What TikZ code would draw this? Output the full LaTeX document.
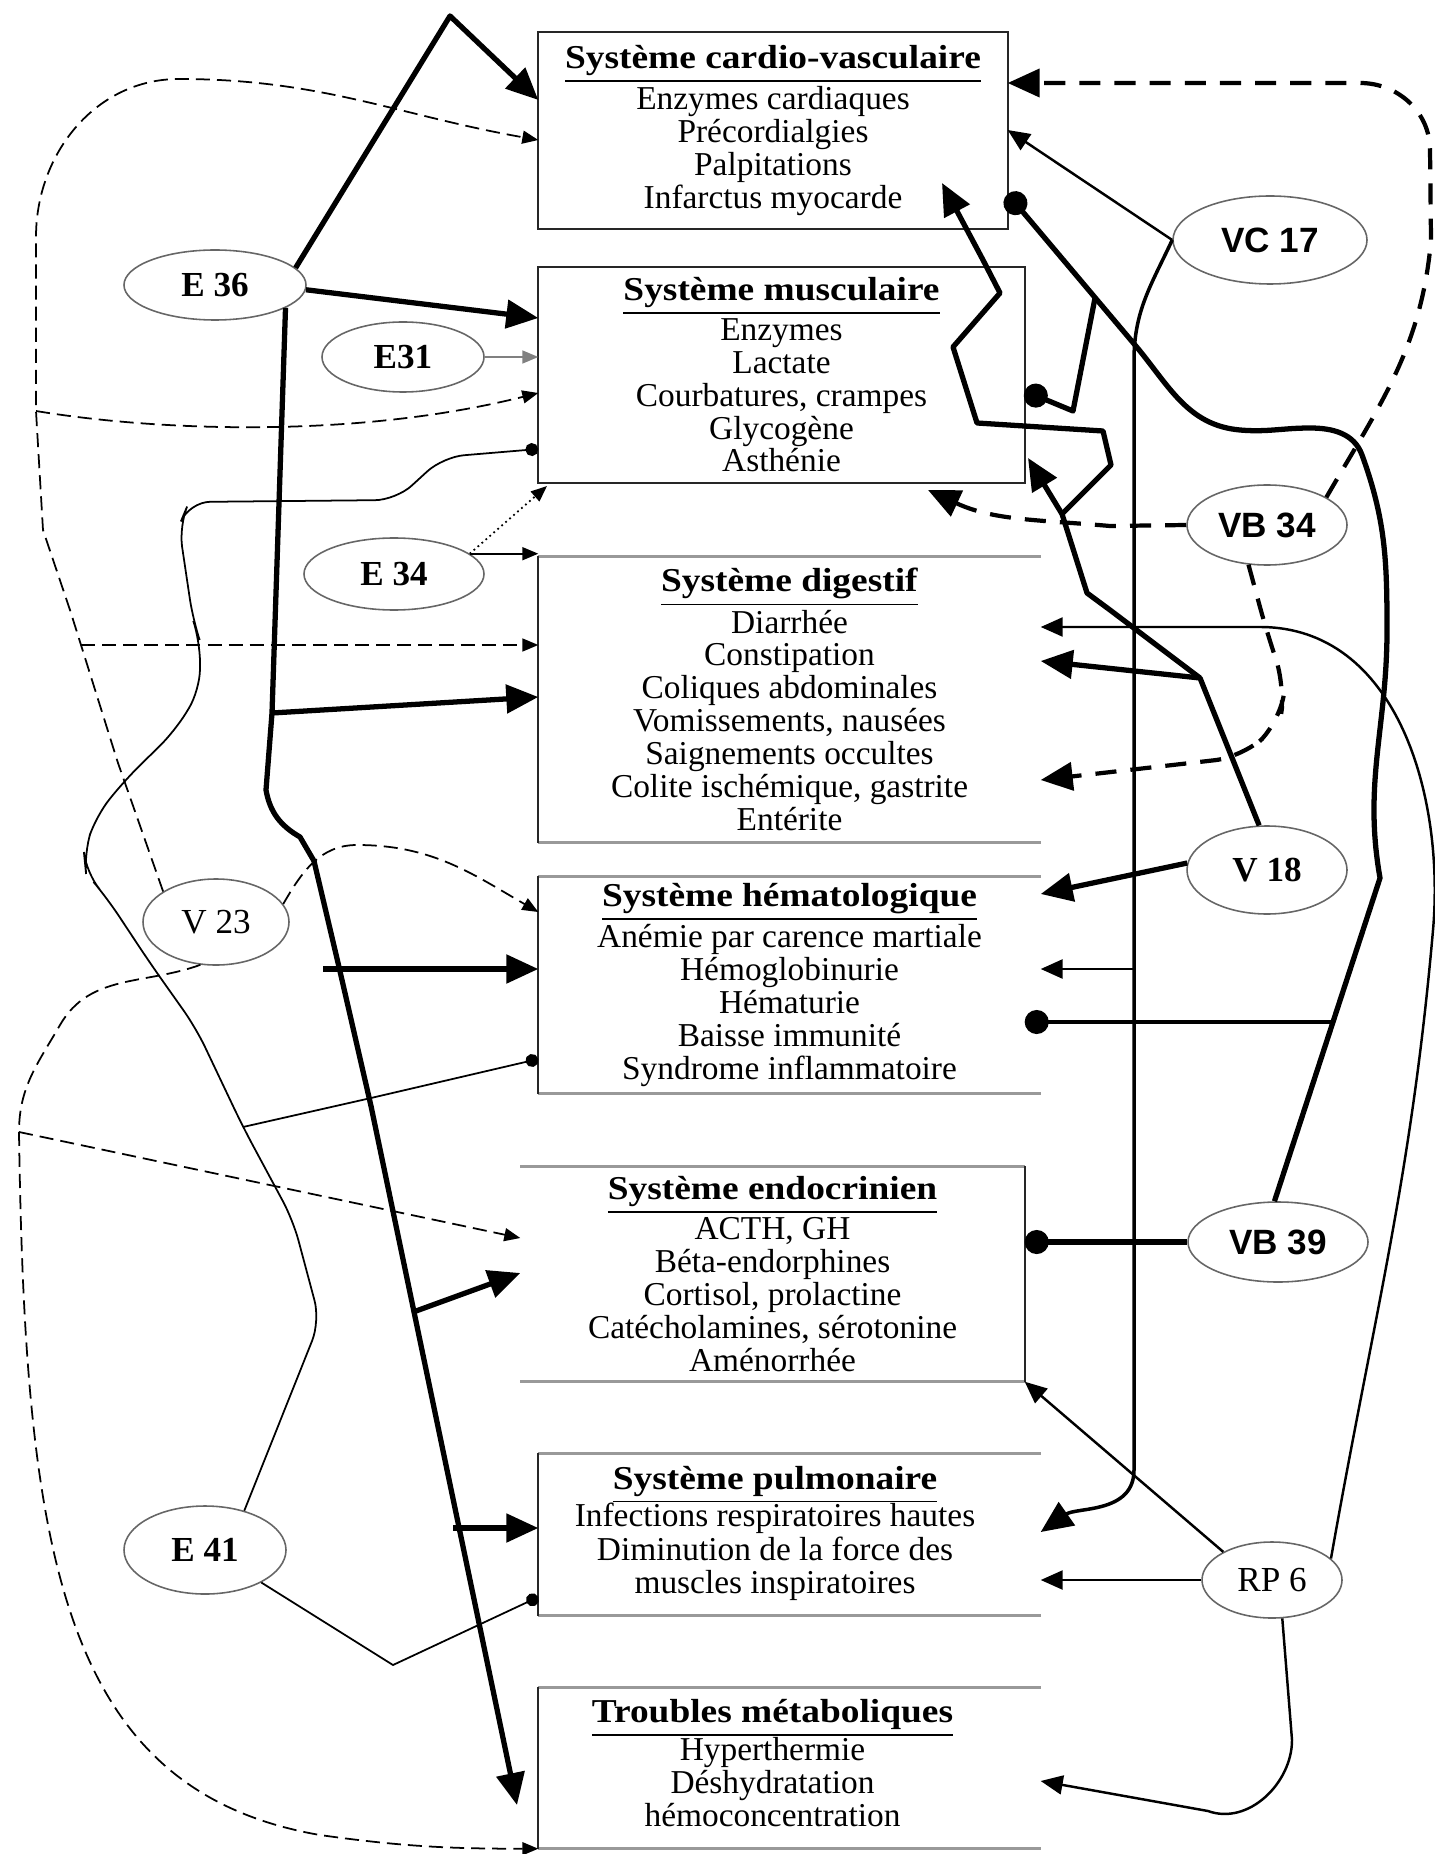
\documentclass[tikz,border=0pt]{standalone}
\usepackage{fontspec}
\setmainfont{Liberation Serif}
\setsansfont{Liberation Sans}
\usetikzlibrary{shapes.geometric,arrows.meta}

\newcommand{\systitle}[1]{\underline{\scalebox{1.12}[1]{\textbf{#1}}}}

\tikzset{
  sys/.style={inner sep=0pt, align=center, font=\fontsize{9.5}{9.35}\selectfont},
  acu/.style={shape=ellipse, draw=black!60, line width=0.45pt, inner sep=0pt, font=\bfseries\fontsize{10}{10}\selectfont},
  acusans/.style={acu, font=\sffamily\bfseries\fontsize{10}{10}\selectfont},
  boxside/.style={draw=black!85, line width=0.6pt},
  boxrule/.style={draw=black!40, line width=0.9pt},
  fatline/.style={line width=1.5pt, line join=round},
  midline/.style={line width=1.0pt, line join=round},
  thinline/.style={line width=0.5pt},
  dashthin/.style={line width=0.5pt, dash pattern=on 4pt off 2pt},
  dashfat/.style={line width=1.2pt, dash pattern=on 6pt off 4pt},
  bigtip/.style={-{Triangle[length=3.2mm,width=2.8mm]}},
  midtip/.style={-{Triangle[length=2.2mm,width=1.9mm]}},
  smalltip/.style={-{Triangle[length=1.6mm,width=1.3mm]}},
  bigdot/.style={-{Circle[length=2.4mm]}},
  smalldot/.style={-{Circle[length=1.3mm]}}
}

\begin{document}
\begin{tikzpicture}
\useasboundingbox (0,0) rectangle (14.34,-18.54);

\node [name=cv, sys, minimum width=4.68cm, minimum height=1.95cm] at (7.73,-1.305) {\systitle{Système cardio-vasculaire}\\Enzymes cardiaques\\Précordialgies\\Palpitations\\Infarctus myocarde};
\draw[boxside] (cv.north west) rectangle (cv.south east);

\node [name=mu, sys, minimum width=4.85cm, minimum height=2.14cm] at (7.815,-3.75) {\systitle{Système musculaire}\\Enzymes\\Lactate\\Courbatures, crampes\\Glycogène\\Asthénie};
\draw[boxside] (mu.north west) rectangle (mu.south east);

\node [name=di, sys, minimum width=5.01cm, minimum height=2.85cm] at (7.895,-6.995) {\systitle{Système digestif}\\Diarrhée\\Constipation\\Coliques abdominales\\Vomissements, nausées\\Saignements occultes\\Colite ischémique, gastrite\\Entérite};
\draw[boxrule] (di.north east) -- (di.north west) (di.south west) -- (di.south east);
\draw[boxside] (di.north west) -- (di.south west);

\node [name=he, sys, minimum width=5.01cm, minimum height=2.16cm] at (7.895,-9.85) {\systitle{Système hématologique}\\Anémie par carence martiale\\Hémoglobinurie\\Hématurie\\Baisse immunité\\Syndrome inflammatoire};
\draw[boxrule] (he.north east) -- (he.north west) (he.south west) -- (he.south east);
\draw[boxside] (he.north west) -- (he.south west);

\node [name=en, sys, minimum width=5.03cm, minimum height=2.14cm] at (7.725,-12.74) {\systitle{Système endocrinien}\\ACTH, GH\\Béta-endorphines\\Cortisol, prolactine\\Catécholamines, sérotonine\\Aménorrhée};
\draw[boxrule] (en.north west) -- (en.north east) (en.south east) -- (en.south west);
\draw[boxside] (en.north east) -- (en.south east);

\node [name=pu, sys, minimum width=5.01cm, minimum height=1.61cm] at (7.895,-15.345) {\hspace*{-2.9mm}\begin{tabular}{@{}c@{}}\systitle{Système pulmonaire}\\Infections respiratoires hautes\\Diminution de la force des\\muscles inspiratoires\end{tabular}};
\draw[boxrule] (pu.north east) -- (pu.north west) (pu.south west) -- (pu.south east);
\draw[boxside] (pu.north west) -- (pu.south west);

\node [name=tm, sys, minimum width=5.01cm, minimum height=1.60cm] at (7.895,-17.68) {\hspace*{-3.4mm}\begin{tabular}{@{}c@{}}\systitle{Troubles métaboliques}\\Hyperthermie\\Déshydratation\\hémoconcentration\end{tabular}};
\draw[boxrule] (tm.north east) -- (tm.north west) (tm.south west) -- (tm.south east);
\draw[boxside] (tm.north west) -- (tm.south west);

\node [name=e36, acu, minimum width=1.82cm, minimum height=0.70cm] at (2.15,-2.85) {E 36};
\node [name=e31, acu, minimum width=1.62cm, minimum height=0.70cm] at (4.03,-3.57) {E31};
\node [name=e34, acu, minimum width=1.80cm, minimum height=0.72cm] at (3.94,-5.74) {E 34};
\node [name=v23, acu, font=\fontsize{10}{10}\selectfont, minimum width=1.46cm, minimum height=0.86cm] at (2.16,-9.22) {V 23};
\node [name=e41, acu, minimum width=1.62cm, minimum height=0.88cm] at (2.05,-15.50) {E 41};
\node [name=vc17, acusans, minimum width=1.94cm, minimum height=0.88cm] at (12.70,-2.40) {VC 17};
\node [name=vb34, acusans, minimum width=1.60cm, minimum height=0.80cm] at (12.67,-5.25) {VB 34};
\node [name=v18, acu, minimum width=1.60cm, minimum height=0.88cm] at (12.67,-8.70) {V 18};
\node [name=vb39, acusans, minimum width=1.80cm, minimum height=0.80cm] at (12.78,-12.42) {VB 39};
\node [name=rp6, acu, font=\fontsize{10}{10}\selectfont, minimum width=1.40cm, minimum height=0.76cm] at (12.72,-15.80) {RP 6};

\coordinate (tdi) at (2.72,-7.13);
\coordinate (the) at (3.23,-9.69);
\coordinate (ten) at (4.16,-13.11);
\coordinate (tpu) at (4.53,-15.28);
\draw[fatline, bigtip] (e36.12) -- (4.50,-0.16) -- (cv.west |- 0,-1.00);
\draw[fatline, bigtip] (e36.-3) -- (mu.west |- 0,-3.18);
\draw[fatline, bigtip] (e36.-18) -- (tdi) -- (2.66,-7.90) to[out=-80,in=150] (3.00,-8.37) -- (3.14,-8.61) -- (3.39,-9.67) -- (3.71,-11.06) -- (5.17,-18.05);
\draw[fatline, bigtip] (tdi) -- (di.west |- 0,-6.97);
\draw[fatline, bigtip] (the) -- (he.west |- the);
\draw[fatline, bigtip] (ten) -- (en.west |- 0,-12.73);
\draw[fatline, bigtip] (tpu) -- (pu.west |- tpu);
\draw[thinline, gray, smalltip] (e31.east) -- (mu.west |- e31.east);
\draw[thinline, densely dotted, smalltip] (e34.15) -- (5.47,-4.86);
\draw[thinline, smalltip] (e34.15) -- (e34.15 -| di.west);

\coordinate (v23a) at (0.36,-4.11);
\coordinate (v23b) at (0.81,-6.45);
\coordinate (v23c) at (0.19,-11.32);
\draw[dashthin, smalltip] (v23.150) -- (1.18,-7.63) -- (v23b) -- (0.70,-6.10) -- (0.43,-5.30) -- (v23a) -- (0.36,-2.37) to[out=90,in=180] (1.79,-0.79) to[out=0,in=170] (cv.west |- 0,-1.40);
\draw[dashthin, smalltip] (v23a) .. controls (1.5,-4.3) and (3.5,-4.4) .. (mu.west |- 0,-3.93);
\draw[dashthin, smalltip] (v23b) -- (di.west |- v23b);
\draw[dashthin, smalltip] (v23.15) to[out=60,in=180] (3.57,-8.45) to[out=0,in=150] (he.west |- 0,-9.12);
\draw[dashthin, smalltip] (v23.-110) to[out=200,in=60] (0.60,-10.25) to[out=240,in=90] (v23c) .. controls (0.25,-15.5) and (0.6,-17.9) .. (3.20,-18.35) to[out=-8,in=180] (tm.south west);
\draw[dashthin, smalltip] (v23c) -- (en.west |- 0,-12.38);

\coordinate (e41h) at (2.43,-11.27);
\draw[thinline, smalldot, rounded corners=6pt] (e41.45) -- (3.20,-13.21) -- (2.93,-12.20) -- (e41h) -- (1.96,-10.28) -- (1.50,-9.63) -- (1.07,-8.98) -- (0.86,-8.73) -- (0.84,-8.53) -- (0.96,-8.16) -- (1.25,-7.80) -- (1.75,-7.31) -- (2.00,-6.90) -- (2.00,-6.41) -- (1.93,-6.20) -- (1.79,-5.26) -- (1.89,-5.02) -- (3.96,-5.00) -- (4.43,-4.57) -- (mu.west |- 0,-4.49);
\draw[thinline, smalldot] (e41h) -- (3.71,-10.98) -- (he.west |- 0,-10.59);
\draw[thinline, smalldot] (e41.-30) -- (3.93,-16.65) -- (pu.west |- 0,-15.97);

\draw[thinline, line width=0.7pt, midtip] (vc17.west) -- (cv.east |- 0,-1.30);
\coordinate (vch) at (11.34,-9.69);
\draw[midline, bigtip] (vc17.west) to[out=-115,in=90] (11.34,-3.60) -- (11.34,-14.70) to[out=-90,in=35] (pu.east |- 0,-15.32);
\draw[thinline, line width=0.8pt, midtip] (vch) -- (he.east |- vch);

\draw[dashfat, bigtip] (vb34.25) to[out=60,in=-95] (14.31,-2.40) -- (14.30,-1.50) to[out=90,in=0] (13.60,-0.83) -- (cv.east |- 0,-0.83);
\draw[dashfat, bigtip] (vb34.west) -- (11.10,-5.26) to[out=175,in=-25] (9.28,-4.90);
\draw[dashfat, bigtip, rounded corners=8pt] (vb34.-115) -- (12.67,-6.33) -- (12.85,-6.86) -- (12.80,-7.22) -- (12.43,-7.57) -- (di.east |- 0,-7.80);

\coordinate (vbm) at (10.95,-2.98);
\coordinate (vbh) at (13.34,-10.22);
\draw[fatline, bigdot] (vb39.95) -- (13.80,-8.78) to[out=100,in=-90] (13.87,-6.30) to[out=90,in=-70] (13.62,-4.55) to[out=110,in=0] (13.10,-4.28) to[out=180,in=-5] (12.40,-4.30) to[out=175,in=-50] (11.35,-3.45) -- (cv.east |- 0,-1.94);
\draw[fatline, bigdot] (vbm) -- (10.73,-4.11) -- (mu.east |- 0,-3.91);
\draw[midline, line width=1.2pt, bigdot, shorten >=-1.6mm] (vbh) -- (he.east |- vbh);
\draw[fatline, bigdot] (vb39.west) -- (en.east |- vb39.west);

\coordinate (v18j) at (12.00,-6.78);
\coordinate (v18k) at (10.62,-5.14);
\draw[fatline, bigtip] (v18.100) -- (v18j) -- (di.east |- 0,-6.61);
\draw[fatline, bigtip] (v18j) -- (11.10,-6.10) -- (10.87,-5.93) -- (v18k) -- (10.28,-4.58);
\draw[fatline, bigtip] (v18k) -- (11.11,-4.65) -- (11.03,-4.31) -- (9.77,-4.23) -- (9.53,-3.47) -- (10.00,-2.93) -- (9.83,-2.60) -- (9.42,-1.83);
\draw[fatline, bigtip] (v18.175) -- (he.east |- 0,-8.94);

\draw[thinline, line width=0.7pt, midtip] (rp6.150) -- (en.south east);
\draw[thinline, line width=0.7pt, midtip] (rp6.west) -- (pu.east |- rp6.west);
\draw[thinline, line width=0.7pt, midtip] (rp6.-75) -- (12.92,-17.40) to[out=-90,in=-20] (12.08,-18.11) -- (tm.east |- 0,-17.81);
\draw[thinline, line width=0.7pt, midtip] (rp6.20) to[out=80,in=-95] (14.33,-9.30) to[out=85,in=0] (12.60,-6.27) -- (di.east |- 0,-6.27);
\end{tikzpicture}
\end{document}
